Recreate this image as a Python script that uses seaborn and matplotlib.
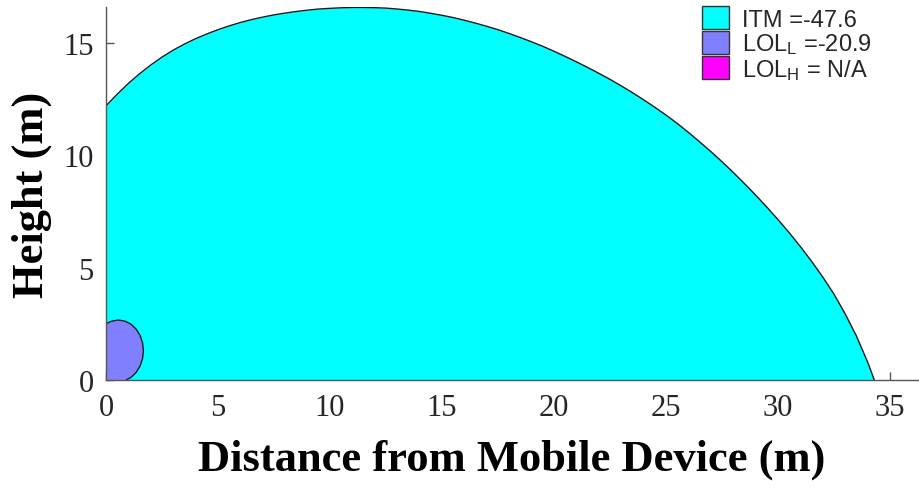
import numpy as np
import pandas as pd
import matplotlib
matplotlib.use("Agg")
import matplotlib.pyplot as plt
import seaborn as sns
from matplotlib.patches import Patch

# Coverage boundary of the ITM region (distance in m, height in m)
itm_distance = [0, 0.5, 1.0, 1.5, 2.0, 2.5, 3.0, 3.5, 4.0, 4.5, 5.0, 5.5, 6.0,
                6.5, 7.0, 7.5, 8.0, 8.5, 9.0, 9.5, 10.0, 10.5, 11.0, 11.5,
                12.0, 12.5, 13.0, 13.5, 14.0, 14.5, 15.0, 15.5, 16.0, 16.5,
                17.0, 17.5, 18.0, 18.5, 19.0, 19.5, 20.0, 20.5, 21.0, 21.5,
                22.0, 22.5, 23.0, 23.5, 24.0, 24.5, 25.0, 25.5, 26.0, 26.5,
                27.0, 27.5, 28.0, 28.5, 29.0, 29.5, 30.0, 30.5, 31.0, 31.5,
                32.0, 32.5, 33.0, 33.5, 34.0, 34.3]
itm_height = [12.2, 12.72, 13.2, 13.63, 14.02, 14.37, 14.68, 14.95, 15.19,
              15.40, 15.59, 15.76, 15.91, 16.04, 16.15, 16.25, 16.33, 16.40,
              16.46, 16.51, 16.54, 16.565, 16.58, 16.58, 16.57, 16.55, 16.51,
              16.46, 16.40, 16.32, 16.23, 16.13, 16.01, 15.88, 15.74, 15.59,
              15.42, 15.24, 15.05, 14.85, 14.63, 14.40, 14.16, 13.91, 13.65,
              13.38, 13.09, 12.79, 12.47, 12.14, 11.79, 11.42, 11.02, 10.60,
              10.17, 9.715, 9.24, 8.745, 8.23, 7.695, 7.14, 6.555, 5.935,
              5.28, 4.58, 3.82, 2.94, 1.96, 0.80, 0]

# Coverage boundary of the LOL_L region
lol_distance = [0, 0.26, 0.55, 0.84, 1.11, 1.34, 1.52, 1.63, 1.67, 1.63, 1.52,
                1.34, 1.11, 0.90]
lol_height = [2.51, 2.62, 2.67, 2.62, 2.49, 2.27, 1.99, 1.66, 1.30, 0.95, 0.62,
              0.33, 0.11, 0]

legend_labels = ["ITM =-47.6", r"LOL$_\mathrm{L}$ =-20.9", r"LOL$_\mathrm{H}$ = N/A"]
legend_colors = ["#00ffff", "#8080ff", "#ff00ff"]

x_ticks = [0, 5, 10, 15, 20, 25, 30, 35]
y_ticks = [0, 5, 10, 15]

sns.set_theme(style="ticks")
plt.rcParams["font.family"] = ["Liberation Serif", "DejaVu Serif"]
plt.rcParams["mathtext.fontset"] = "custom"
plt.rcParams["mathtext.rm"] = "Liberation Sans"
plt.rcParams["mathtext.it"] = "Liberation Sans:italic"
plt.rcParams["mathtext.bf"] = "Liberation Sans:bold"

fig = plt.figure(figsize=(9.19, 4.89), dpi=100)
ax = fig.add_axes([106 / 919, 1 - 381 / 489, (918 - 106) / 919, (381 - 8) / 489])

itm = pd.DataFrame({"distance": itm_distance, "height": itm_height})
lol = pd.DataFrame({"distance": lol_distance, "height": lol_height})

ax.fill_between(itm["distance"], itm["height"], 0, color=legend_colors[0], lw=0, zorder=1)
sns.lineplot(data=itm, x="distance", y="height", sort=False, estimator=None,
             color="#1a1a1a", lw=1.0, ax=ax, zorder=2)

ax.fill(list(lol["distance"]) + [0], list(lol["height"]) + [0],
        color=legend_colors[1], lw=0, zorder=3)
sns.lineplot(data=lol, x="distance", y="height", sort=False, estimator=None,
             color="#1a1a1a", lw=1.0, ax=ax, zorder=4)

ax.set_xlim(0, 36.25)
ax.set_ylim(0, 16.6)
ax.set_xticks(x_ticks)
ax.set_yticks(y_ticks)
sns.despine(ax=ax)
for side in ("left", "bottom"):
    ax.spines[side].set_color("#555555")
    ax.spines[side].set_linewidth(1.0)
    ax.spines[side].set_zorder(5)
ax.tick_params(direction="in", length=6, width=1.0, color="#555555",
               labelsize=22, labelcolor="#262626", pad=9)

ax.set_xlabel("Distance from Mobile Device (m)", fontsize=32, fontweight="bold",
              color="black", labelpad=12)
ax.set_ylabel("Height (m)", fontsize=32, fontweight="bold", color="black", labelpad=8)

handles = [Patch(facecolor=c, edgecolor="#333333", lw=1.0) for c in legend_colors]
fig.legend(handles, legend_labels, loc="upper left",
           bbox_to_anchor=(702 / 919, 1 - 7 / 489), bbox_transform=fig.transFigure,
           frameon=False, borderpad=0, borderaxespad=0, labelspacing=0,
           handlelength=1.14, handleheight=1.14, handletextpad=0.55,
           prop={"family": "Liberation Sans", "size": 17})

fig.savefig("out.png", dpi=100)
